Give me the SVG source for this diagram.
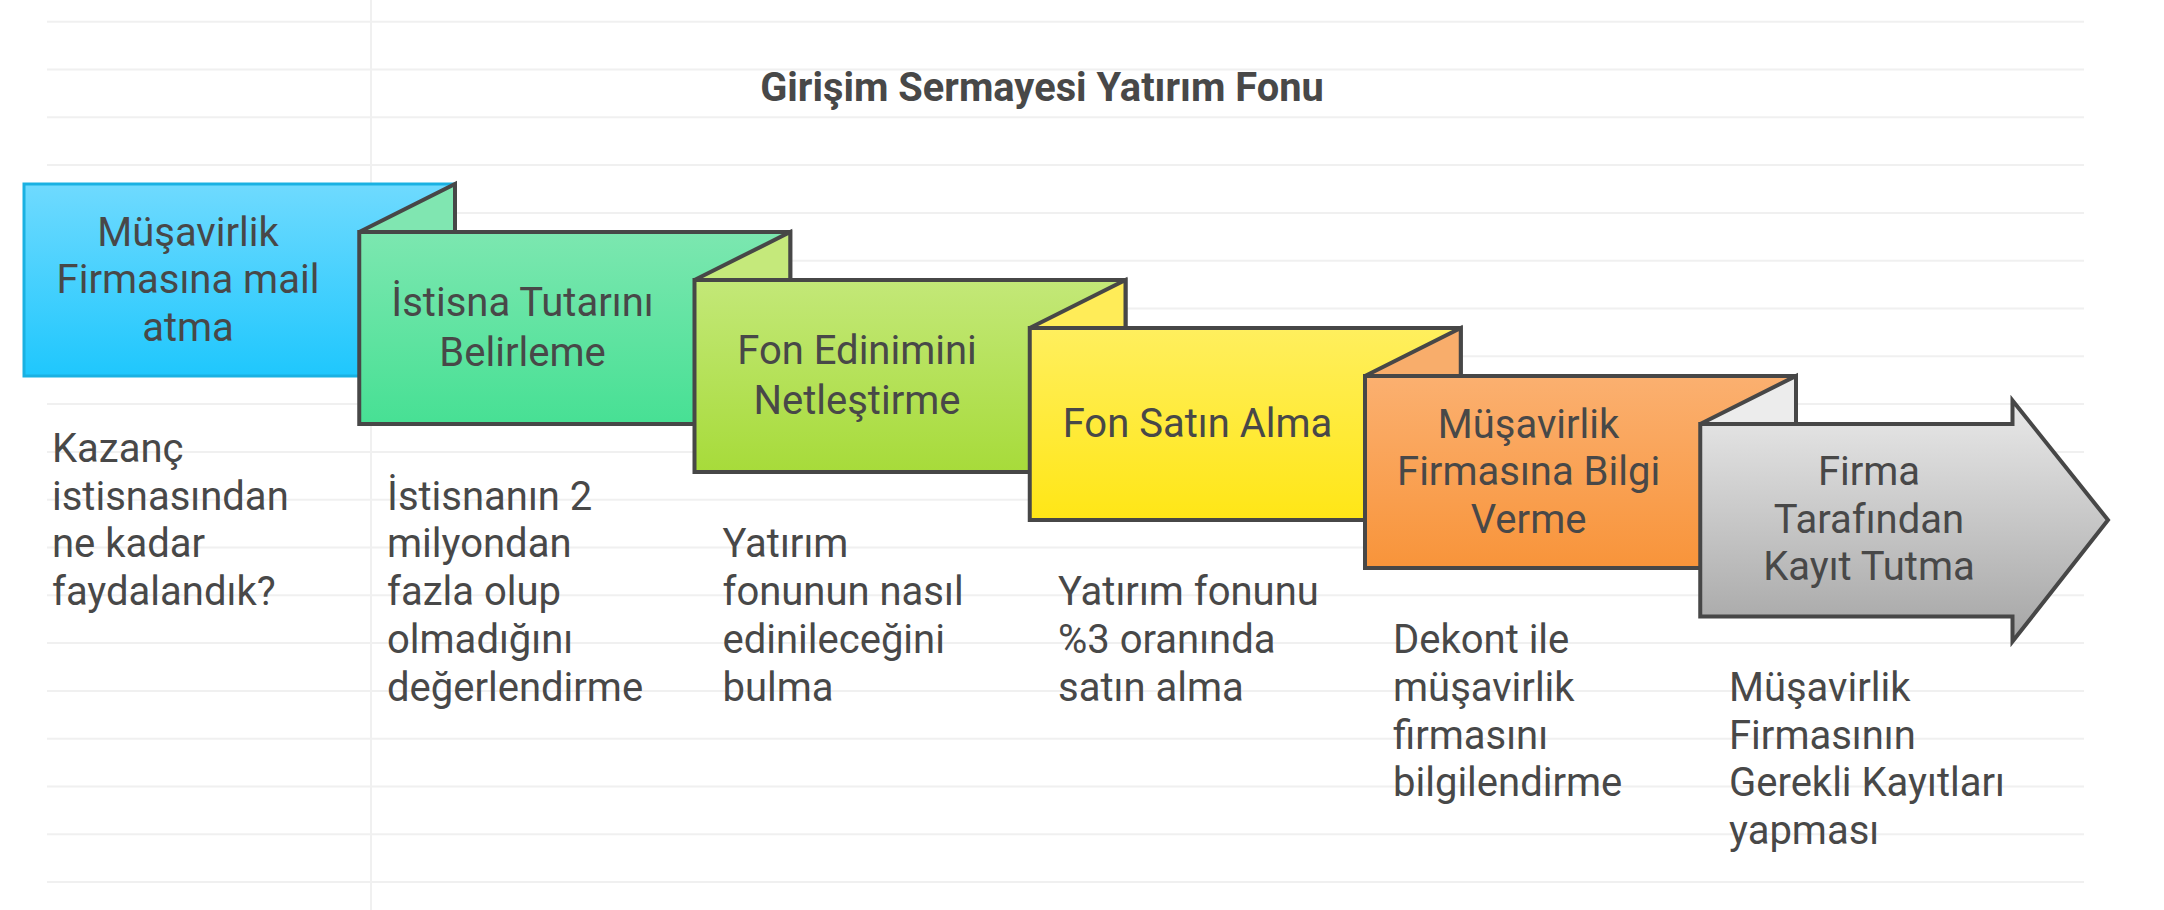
<svg xmlns="http://www.w3.org/2000/svg" width="2164" height="910" viewBox="0 0 2164 910">
<defs>
<linearGradient id="gBlue" x1="0" y1="0" x2="0" y2="1"><stop offset="0" stop-color="#6fdafe"/><stop offset="1" stop-color="#1fc7fd"/></linearGradient>
<linearGradient id="gGreen" x1="0" y1="0" x2="0" y2="1"><stop offset="0" stop-color="#7ce7b0"/><stop offset="1" stop-color="#47e094"/></linearGradient>
<linearGradient id="gLime" x1="0" y1="0" x2="0" y2="1"><stop offset="0" stop-color="#c3e878"/><stop offset="1" stop-color="#a7db3a"/></linearGradient>
<linearGradient id="gYellow" x1="0" y1="0" x2="0" y2="1"><stop offset="0" stop-color="#ffef5e"/><stop offset="1" stop-color="#ffe616"/></linearGradient>
<linearGradient id="gOrange" x1="0" y1="0" x2="0" y2="1"><stop offset="0" stop-color="#fbb070"/><stop offset="1" stop-color="#f8943a"/></linearGradient>
<linearGradient id="gGray" x1="0" y1="0" x2="0" y2="1"><stop offset="0" stop-color="#e9e9e9"/><stop offset="1" stop-color="#a5a5a5"/></linearGradient>
</defs>
<style>
.grid{stroke:#f0f0f0;stroke-width:2;fill:none}
.box{stroke:#474747;stroke-width:4;stroke-linejoin:miter}
.t{font-family:Roboto,"Liberation Sans",sans-serif;font-size:40px;fill:#484848}
.c{text-anchor:middle}
.title{font-family:Roboto,"Liberation Sans",sans-serif;font-size:39.8px;font-weight:bold;fill:#484848;text-anchor:middle}
</style>
<rect width="2164" height="910" fill="#ffffff"/>
<g id="grid">
<line class="grid" x1="371" y1="0" x2="371" y2="910"/>
<line class="grid" x1="47" y1="21.7" x2="2084" y2="21.7"/>
<line class="grid" x1="47" y1="69.5" x2="2084" y2="69.5"/>
<line class="grid" x1="47" y1="117.3" x2="2084" y2="117.3"/>
<line class="grid" x1="47" y1="165.1" x2="2084" y2="165.1"/>
<line class="grid" x1="47" y1="212.9" x2="2084" y2="212.9"/>
<line class="grid" x1="47" y1="260.7" x2="2084" y2="260.7"/>
<line class="grid" x1="47" y1="308.5" x2="2084" y2="308.5"/>
<line class="grid" x1="47" y1="356.3" x2="2084" y2="356.3"/>
<line class="grid" x1="47" y1="404.1" x2="2084" y2="404.1"/>
<line class="grid" x1="47" y1="451.9" x2="2084" y2="451.9"/>
<line class="grid" x1="47" y1="499.7" x2="2084" y2="499.7"/>
<line class="grid" x1="47" y1="547.5" x2="2084" y2="547.5"/>
<line class="grid" x1="47" y1="595.3" x2="2084" y2="595.3"/>
<line class="grid" x1="47" y1="643.1" x2="2084" y2="643.1"/>
<line class="grid" x1="47" y1="690.9" x2="2084" y2="690.9"/>
<line class="grid" x1="47" y1="738.7" x2="2084" y2="738.7"/>
<line class="grid" x1="47" y1="786.5" x2="2084" y2="786.5"/>
<line class="grid" x1="47" y1="834.3" x2="2084" y2="834.3"/>
<line class="grid" x1="47" y1="882.1" x2="2084" y2="882.1"/>
</g>
<text class="title" x="1042" y="101">Girişim Sermayesi Yatırım Fonu</text>
<g id="connectors"></g>
<g id="node1">
<rect x="24" y="184" width="431" height="192" fill="url(#gBlue)" stroke="#1ab1e2" stroke-width="3"/>
<text class="t c"><tspan x="188" y="245.7">Müşavirlik</tspan><tspan x="188" y="293.3">Firmasına mail</tspan><tspan x="188" y="340.7">atma</tspan></text>
<text class="t"><tspan x="52" y="461.7">Kazanç</tspan><tspan x="52" y="509.5">istisnasından</tspan><tspan x="52" y="557.3">ne kadar</tspan><tspan x="52" y="605.1">faydalandık?</tspan></text>
</g>
<g id="node2">
<polygon class="box" points="359.25,232 455,184 455,232" fill="#80e6b1"/>
<rect class="box" x="359.25" y="232" width="431" height="192" fill="url(#gGreen)"/>
<text class="t c"><tspan x="522.5" y="316">İstisna Tutarını</tspan><tspan x="522.5" y="365.7">Belirleme</tspan></text>
<text class="t"><tspan x="387" y="509.5">İstisnanın 2</tspan><tspan x="387" y="557.3">milyondan</tspan><tspan x="387" y="605.1">fazla olup</tspan><tspan x="387" y="652.9">olmadığını</tspan><tspan x="387" y="700.7">değerlendirme</tspan></text>
</g>
<g id="node3">
<polygon class="box" points="694.5,280 790.25,232 790.25,280" fill="#c5e97b"/>
<rect class="box" x="694.5" y="280" width="431" height="192" fill="url(#gLime)"/>
<text class="t c"><tspan x="857" y="364">Fon Edinimini</tspan><tspan x="857" y="413.7">Netleştirme</tspan></text>
<text class="t"><tspan x="722.5" y="557.3">Yatırım</tspan><tspan x="722.5" y="605.1">fonunun nasıl</tspan><tspan x="722.5" y="652.9">edinileceğini</tspan><tspan x="722.5" y="700.7">bulma</tspan></text>
</g>
<g id="node4">
<polygon class="box" points="1029.75,328 1125.5,280 1125.5,328" fill="#ffec58"/>
<rect class="box" x="1029.75" y="328" width="431" height="192" fill="url(#gYellow)"/>
<text class="t c" x="1197.5" y="436.7">Fon Satın Alma</text>
<text class="t"><tspan x="1058" y="605.1">Yatırım fonunu</tspan><tspan x="1058" y="652.9">%3 oranında</tspan><tspan x="1058" y="700.7">satın alma</tspan></text>
</g>
<g id="node5">
<polygon class="box" points="1365,376 1460.75,328 1460.75,376" fill="#f8ad6b"/>
<rect class="box" x="1365" y="376" width="431" height="192" fill="url(#gOrange)"/>
<text class="t c"><tspan x="1528.6" y="437.7">Müşavirlik</tspan><tspan x="1528.6" y="485.3">Firmasına Bilgi</tspan><tspan x="1528.6" y="532.7">Verme</tspan></text>
<text class="t"><tspan x="1393" y="652.9">Dekont ile</tspan><tspan x="1393" y="700.7">müşavirlik</tspan><tspan x="1393" y="748.5">firmasını</tspan><tspan x="1393" y="796.3">bilgilendirme</tspan></text>
</g>
<g id="node6">
<polygon class="box" points="1700.25,424 1796,376 1796,424" fill="#ececec"/>
<path class="box" d="M1700.25,424 L2012.5,424 L2012.5,400.5 L2108,520 L2012.5,641.5 L2012.5,616.5 L1700.25,616.5 Z" fill="url(#gGray)"/>
<text class="t c"><tspan x="1869" y="485.3">Firma</tspan><tspan x="1869" y="532.7">Tarafından</tspan><tspan x="1869" y="580.3">Kayıt Tutma</tspan></text>
<text class="t"><tspan x="1729" y="700.7">Müşavirlik</tspan><tspan x="1729" y="748.5">Firmasının</tspan><tspan x="1729" y="796.3">Gerekli Kayıtları</tspan><tspan x="1729" y="844.1">yapması</tspan></text>
</g>
</svg>
